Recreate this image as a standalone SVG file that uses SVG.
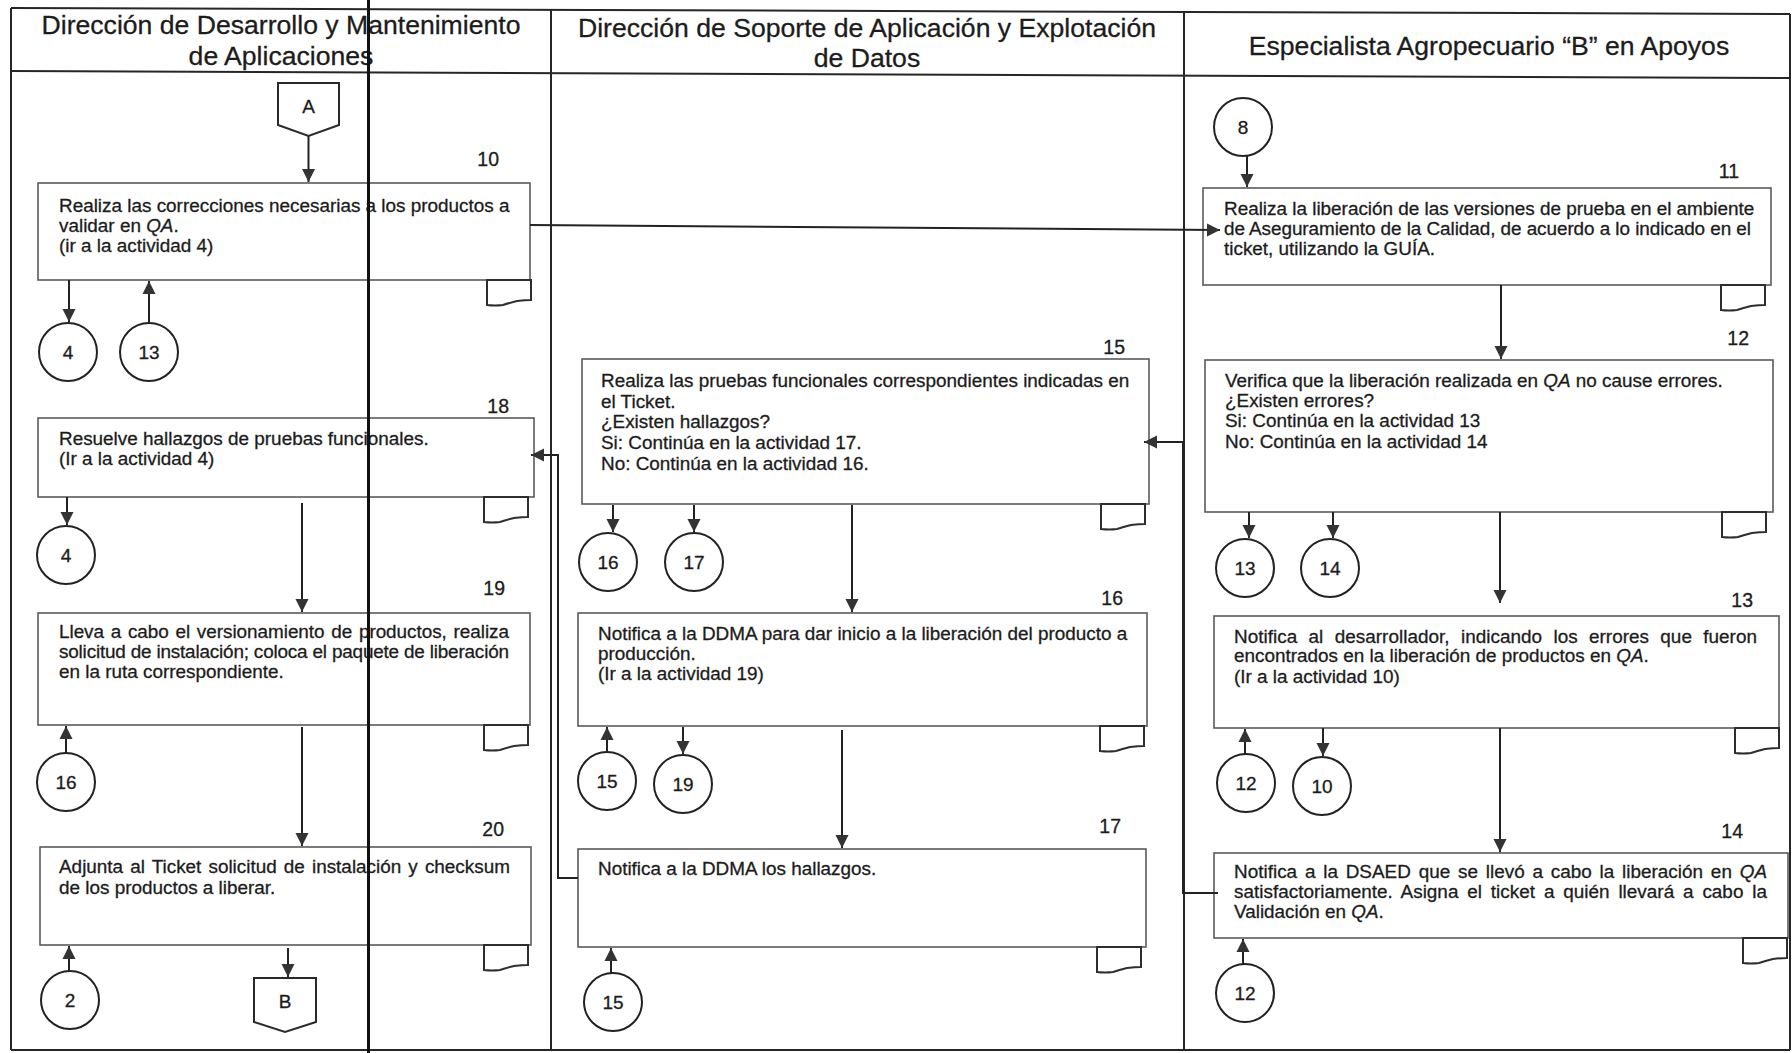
<svg xmlns="http://www.w3.org/2000/svg" width="1792" height="1053" viewBox="0 0 1792 1053">
  <defs>
    <style>
      text { font-family: "Liberation Sans", Arial, Helvetica, sans-serif; fill: #1c1c1c; stroke: #1c1c1c; stroke-width: 0.3px; }
      .h { font-size: 26.6px; text-anchor: middle; }
      .t { font-size: 18.9px; }
      .n { font-size: 19.5px; text-anchor: end; }
      .c { font-size: 19px; text-anchor: middle; }
      .qa { font-style: italic; }
      .lane { stroke: #262626; stroke-width: 2; fill: none; }
      .box { fill: #ffffff; stroke: #5a5a5a; stroke-width: 1.6; }
      .doc { fill: #ffffff; stroke: #2e2e2e; stroke-width: 2; }
      .circ { fill: #ffffff; stroke: #222222; stroke-width: 2; }
      .off { fill: #ffffff; stroke: #2a2a2a; stroke-width: 2; }
      .conn { stroke: #222222; stroke-width: 2; fill: none; marker-end: url(#ah); }
    </style>
    <marker id="ah" markerUnits="userSpaceOnUse" markerWidth="14" markerHeight="14" refX="13" refY="7" orient="auto" viewBox="0 0 14 14">
      <path d="M0,0.5 L13,7 L0,13.5 Z" fill="#333333"/>
    </marker>
    <!-- document symbol hung under each activity box -->
    <path id="doc" d="M0,0 H44 V20 Q38,20 30,21 Q22,23 16,25 Q8,26 0,25 Z"/>
  </defs>

  <rect x="0" y="0" width="1792" height="1053" fill="#ffffff"/>

  <!-- swimlane frame -->
  <g id="lanes">
    <line class="lane" x1="11" y1="8" x2="1790" y2="14"/>
    <line class="lane" x1="11" y1="71" x2="1790" y2="78"/>
    <line class="lane" x1="11" y1="8" x2="11" y2="1050"/>
    <line class="lane" x1="1790" y1="14" x2="1790" y2="1050"/>
    <line class="lane" x1="11" y1="1050" x2="1790" y2="1050"/>
    <line class="lane" x1="551" y1="10" x2="551" y2="1050"/>
    <line class="lane" x1="1184" y1="12" x2="1184" y2="1050"/>
    <text class="h" x="281" y="34">Dirección de Desarrollo y Mantenimiento</text>
    <text class="h" x="281" y="65">de Aplicaciones</text>
    <text class="h" x="867" y="37">Dirección de Soporte de Aplicación y Explotación</text>
    <text class="h" x="867" y="67">de Datos</text>
    <text class="h" x="1489" y="55">Especialista Agropecuario “B” en Apoyos</text>
  </g>

  <!-- Lane 1: DDMA -->
  <g id="conn-A">
    <polygon class="off" points="278,83 339,83 339,125 308.5,136 278,125"/>
    <text class="c" x="308.5" y="113">A</text>
  </g>
  <g id="act-10">
    <text class="n" x="499" y="166">10</text>
    <rect class="box" x="38" y="183" width="492" height="97"/>
    <use href="#doc" class="doc" x="487" y="280"/>
    <text class="t" x="59" y="212">Realiza las correcciones necesarias a los productos a</text>
    <text class="t" x="59" y="232">validar en <tspan class="qa">QA</tspan>.</text>
    <text class="t" x="59" y="252">(ir a la actividad 4)</text>
  </g>
  <g id="ref-4a"><circle class="circ" cx="68" cy="352" r="29"/><text class="c" x="68" y="359">4</text></g>
  <g id="ref-13a"><circle class="circ" cx="149" cy="352" r="29"/><text class="c" x="149" y="359">13</text></g>

  <g id="act-18">
    <text class="n" x="509" y="413">18</text>
    <rect class="box" x="38" y="418" width="496" height="79"/>
    <use href="#doc" class="doc" x="484" y="497"/>
    <text class="t" x="59" y="445">Resuelve hallazgos de pruebas funcionales.</text>
    <text class="t" x="59" y="465">(Ir a la actividad 4)</text>
  </g>
  <g id="ref-4b"><circle class="circ" cx="66" cy="555" r="29"/><text class="c" x="66" y="562">4</text></g>

  <g id="act-19">
    <text class="n" x="505" y="595">19</text>
    <rect class="box" x="38" y="613" width="492" height="112"/>
    <use href="#doc" class="doc" x="484" y="725"/>
    <text class="t" x="59" y="638" word-spacing="1.5" textLength="450" lengthAdjust="spacing">Lleva a cabo el versionamiento de productos, realiza</text>
    <text class="t" x="59" y="658" textLength="450" lengthAdjust="spacing">solicitud de instalación; coloca el paquete de liberación</text>
    <text class="t" x="59" y="678">en la ruta correspondiente.</text>
  </g>
  <g id="ref-16a"><circle class="circ" cx="66" cy="782" r="29"/><text class="c" x="66" y="789">16</text></g>

  <g id="act-20">
    <text class="n" x="504" y="836">20</text>
    <rect class="box" x="40" y="847" width="491" height="98"/>
    <use href="#doc" class="doc" x="484" y="945"/>
    <text class="t" x="59" y="873" word-spacing="1.8" textLength="451" lengthAdjust="spacing">Adjunta al Ticket solicitud de instalación y checksum</text>
    <text class="t" x="59" y="894">de los productos a liberar.</text>
  </g>
  <g id="ref-2"><circle class="circ" cx="70" cy="1000" r="29"/><text class="c" x="70" y="1007">2</text></g>
  <g id="conn-B">
    <polygon class="off" points="254,978 316,978 316,1022 285,1032 254,1022"/>
    <text class="c" x="285" y="1008">B</text>
  </g>

  <!-- Lane 2: DSAED -->
  <g id="act-15">
    <text class="n" x="1125" y="354">15</text>
    <rect class="box" x="582" y="359" width="567" height="145"/>
    <use href="#doc" class="doc" x="1101" y="504"/>
    <text class="t" x="601" y="387">Realiza las pruebas funcionales correspondientes indicadas en</text>
    <text class="t" x="601" y="408">el Ticket.</text>
    <text class="t" x="601" y="428">¿Existen hallazgos?</text>
    <text class="t" x="601" y="449">Si: Continúa en la actividad 17.</text>
    <text class="t" x="601" y="470">No: Continúa en la actividad 16.</text>
  </g>
  <g id="ref-16b"><circle class="circ" cx="608" cy="562" r="29"/><text class="c" x="608" y="569">16</text></g>
  <g id="ref-17"><circle class="circ" cx="694" cy="562" r="29"/><text class="c" x="694" y="569">17</text></g>

  <g id="act-16">
    <text class="n" x="1123" y="605">16</text>
    <rect class="box" x="578" y="613" width="569" height="113"/>
    <use href="#doc" class="doc" x="1100" y="726"/>
    <text class="t" x="598" y="640">Notifica a la DDMA para dar inicio a la liberación del producto a</text>
    <text class="t" x="598" y="660">producción.</text>
    <text class="t" x="598" y="680">(Ir a la actividad 19)</text>
  </g>
  <g id="ref-15a"><circle class="circ" cx="607" cy="781" r="29"/><text class="c" x="607" y="788">15</text></g>
  <g id="ref-19"><circle class="circ" cx="683" cy="784" r="29"/><text class="c" x="683" y="791">19</text></g>

  <g id="act-17">
    <text class="n" x="1121" y="833">17</text>
    <rect class="box" x="578" y="849" width="568" height="98"/>
    <use href="#doc" class="doc" x="1097" y="947"/>
    <text class="t" x="598" y="875">Notifica a la DDMA los hallazgos.</text>
  </g>
  <g id="ref-15b"><circle class="circ" cx="613" cy="1002" r="29"/><text class="c" x="613" y="1009">15</text></g>

  <!-- Lane 3: Especialista -->
  <g id="ref-8"><circle class="circ" cx="1243" cy="127" r="29"/><text class="c" x="1243" y="134">8</text></g>
  <g id="act-11">
    <text class="n" x="1739" y="178">11</text>
    <rect class="box" x="1203" y="188" width="568" height="97"/>
    <use href="#doc" class="doc" x="1721" y="285"/>
    <text class="t" x="1224" y="215">Realiza la liberación de las versiones de prueba en el ambiente</text>
    <text class="t" x="1224" y="235" textLength="527" lengthAdjust="spacing">de Aseguramiento de la Calidad, de acuerdo a lo indicado en el</text>
    <text class="t" x="1224" y="255">ticket, utilizando la GUÍA.</text>
  </g>

  <g id="act-12">
    <text class="n" x="1749" y="345">12</text>
    <rect class="box" x="1205" y="360" width="568" height="152"/>
    <use href="#doc" class="doc" x="1722" y="512"/>
    <text class="t" x="1225" y="387">Verifica que la liberación realizada en <tspan class="qa">QA</tspan> no cause errores.</text>
    <text class="t" x="1225" y="407">¿Existen errores?</text>
    <text class="t" x="1225" y="427">Si: Continúa en la actividad 13</text>
    <text class="t" x="1225" y="448">No: Continúa en la actividad 14</text>
  </g>
  <g id="ref-13b"><circle class="circ" cx="1245" cy="568" r="29"/><text class="c" x="1245" y="575">13</text></g>
  <g id="ref-14"><circle class="circ" cx="1330" cy="568" r="29"/><text class="c" x="1330" y="575">14</text></g>

  <g id="act-13">
    <text class="n" x="1753" y="607">13</text>
    <rect class="box" x="1214" y="616" width="565" height="112"/>
    <use href="#doc" class="doc" x="1735" y="728"/>
    <text class="t" x="1234" y="643" word-spacing="6" textLength="523" lengthAdjust="spacing">Notifica al desarrollador, indicando los errores que fueron</text>
    <text class="t" x="1234" y="662">encontrados en la liberación de productos en <tspan class="qa">QA</tspan>.</text>
    <text class="t" x="1234" y="683">(Ir a la actividad 10)</text>
  </g>
  <g id="ref-12a"><circle class="circ" cx="1246" cy="783" r="29"/><text class="c" x="1246" y="790">12</text></g>
  <g id="ref-10"><circle class="circ" cx="1322" cy="786" r="29"/><text class="c" x="1322" y="793">10</text></g>

  <g id="act-14">
    <text class="n" x="1743" y="838">14</text>
    <rect class="box" x="1214" y="853" width="574" height="85"/>
    <use href="#doc" class="doc" x="1743" y="938"/>
    <text class="t" x="1234" y="878" word-spacing="2.5" textLength="533" lengthAdjust="spacing">Notifica a la DSAED que se llevó a cabo la liberación en <tspan class="qa">QA</tspan></text>
    <text class="t" x="1234" y="898" word-spacing="3.6" textLength="533" lengthAdjust="spacing">satisfactoriamente. Asigna el ticket a quién llevará a cabo la</text>
    <text class="t" x="1234" y="918">Validación en <tspan class="qa">QA</tspan>.</text>
  </g>
  <g id="ref-12b"><circle class="circ" cx="1245" cy="993" r="29"/><text class="c" x="1245" y="1000">12</text></g>

  <!-- connectors -->
  <g id="connectors">
    <path class="conn" d="M308.5,136 V182"/>
    <path class="conn" d="M69,280 V322"/>
    <path class="conn" d="M149,323 V281"/>
    <path class="conn" d="M530,225 L1220,230"/>
    <path class="conn" d="M67,497 V525"/>
    <path class="conn" d="M302,503 V612"/>
    <path class="conn" d="M66,753 V726"/>
    <path class="conn" d="M302,727 V846"/>
    <path class="conn" d="M69,971 V946"/>
    <path class="conn" d="M288,948 V977"/>
    <path class="conn" d="M613,505 V532"/>
    <path class="conn" d="M694,505 V532"/>
    <path class="conn" d="M852,505 V612"/>
    <path class="conn" d="M607,752 V727"/>
    <path class="conn" d="M683,727 V754"/>
    <path class="conn" d="M842,730 V848"/>
    <path class="conn" d="M611,973 V948"/>
    <path class="conn" d="M578,878 H558 V455 H531"/>
    <path class="conn" d="M1247,156 V187"/>
    <path class="conn" d="M1501,285 V359"/>
    <path class="conn" d="M1249,512 V538"/>
    <path class="conn" d="M1333,512 V538"/>
    <path class="conn" d="M1500,512 V603"/>
    <path class="conn" d="M1245,754 V729"/>
    <path class="conn" d="M1323,728 V756"/>
    <path class="conn" d="M1500,728 V852"/>
    <path class="conn" d="M1243,964 V939"/>
    <path class="conn" d="M1218,893 H1183 V442 H1144"/>
  </g>

  <!-- heavy rule crossing the first lane -->
  <line x1="368.5" y1="0" x2="368.5" y2="1053" stroke="#111111" stroke-width="3"/>
</svg>
